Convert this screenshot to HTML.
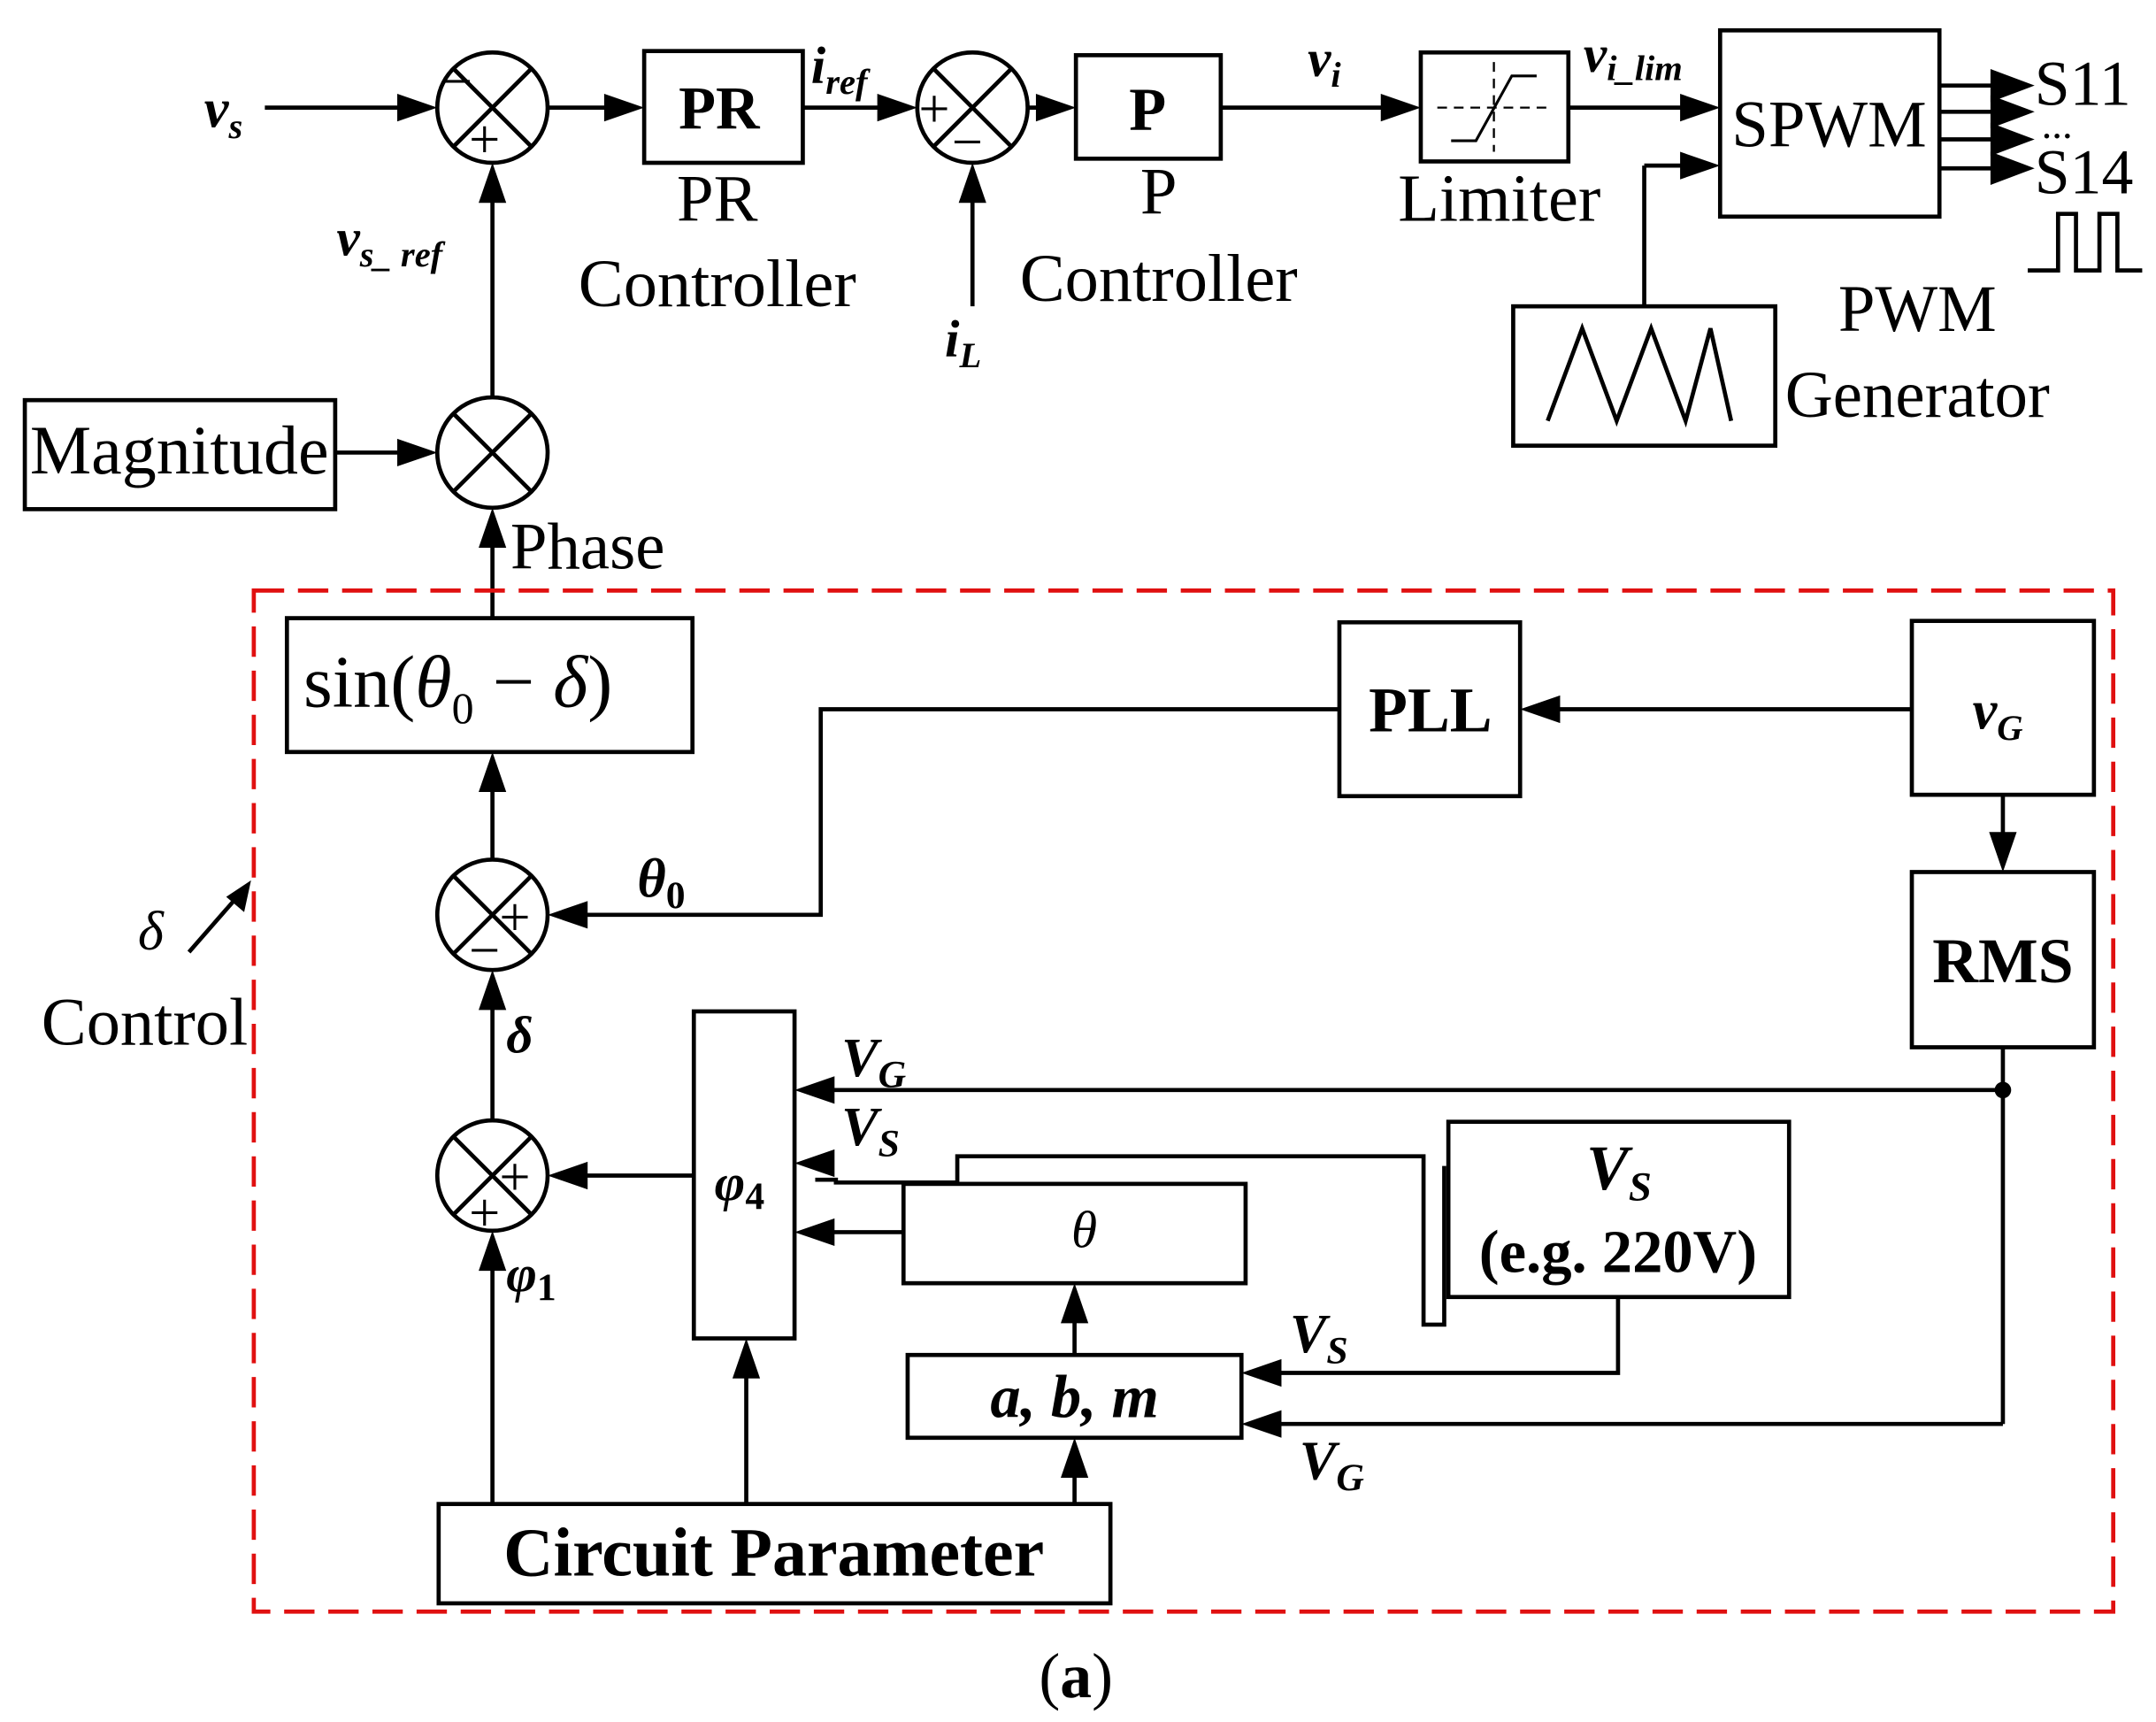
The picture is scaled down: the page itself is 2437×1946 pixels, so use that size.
<!DOCTYPE html>
<html><head><meta charset="utf-8"><style>
html,body{margin:0;padding:0;background:#fff;}
svg{display:block;}
text{font-family:"Liberation Serif",serif;fill:#000;}
.b{font-weight:bold;}
.i{font-style:italic;}
</style></head><body>
<svg width="2437" height="1946" viewBox="0 0 1563 1248" preserveAspectRatio="none" xmlns="http://www.w3.org/2000/svg">
<g stroke="#000" stroke-width="3" fill="none">
<line x1="192" y1="78" x2="300" y2="78"/>
<circle cx="357" cy="78" r="40"/>
<line x1="329" y1="50" x2="385" y2="106"/><line x1="385" y1="50" x2="329" y2="106"/>
<line x1="397" y1="78" x2="452" y2="78"/>
<rect x="467" y="37" width="115" height="81"/>
<line x1="582" y1="78" x2="650" y2="78"/>
<circle cx="705" cy="78" r="40"/>
<line x1="677" y1="50" x2="733" y2="106"/><line x1="733" y1="50" x2="677" y2="106"/>
<line x1="705" y1="222" x2="705" y2="135"/>
<line x1="745" y1="78" x2="765" y2="78"/>
<rect x="780" y="40" width="105" height="75"/>
<line x1="885" y1="78" x2="1015" y2="78"/>
<rect x="1030" y="38" width="107" height="79"/>
<line x1="1137" y1="78" x2="1232" y2="78"/>
<rect x="1247" y="22" width="159" height="135"/>
<line x1="1192" y1="222" x2="1192" y2="120"/><line x1="1192" y1="120" x2="1232" y2="120"/>
<rect x="1097" y="222" width="190" height="101"/>
<polyline points="1122,305 1147,238 1172,305 1197,238 1222,305 1240,238 1255,305"/>
<line x1="1406" y1="62" x2="1450" y2="62"/><line x1="1406" y1="81" x2="1450" y2="81"/>
<line x1="1406" y1="101" x2="1450" y2="101"/><line x1="1406" y1="122" x2="1450" y2="122"/>
<polyline points="1470,196 1492,196 1492,155 1505,155 1505,196 1522,196 1522,155 1535,155 1535,196 1553,196"/>
<line x1="1042" y1="78" x2="1125" y2="78" stroke-width="1.5" stroke-dasharray="7,5"/>
<line x1="1083" y1="45" x2="1083" y2="110" stroke-width="1.5" stroke-dasharray="7,5"/>
<polyline points="1052,102 1070,102 1096,55 1114,55" stroke-width="2"/>
<line x1="357" y1="288" x2="357" y2="133"/>
<rect x="18" y="290" width="225" height="79"/>
<line x1="243" y1="328" x2="302" y2="328"/>
<circle cx="357" cy="328" r="40"/>
<line x1="329" y1="300" x2="385" y2="356"/><line x1="385" y1="300" x2="329" y2="356"/>
<line x1="357" y1="448" x2="357" y2="383"/>
<rect x="208" y="448" width="294" height="97"/>
<rect x="971" y="451" width="131" height="126"/>
<rect x="1386" y="450" width="132" height="126"/>
<rect x="1386" y="632" width="132" height="127"/>
<line x1="1386" y1="514" x2="1117" y2="514"/>
<polyline points="971,514 595,514 595,663 412,663"/>
<line x1="1452" y1="576" x2="1452" y2="617"/>
<circle cx="357" cy="663" r="40"/>
<line x1="329" y1="635" x2="385" y2="691"/><line x1="385" y1="635" x2="329" y2="691"/>
<line x1="357" y1="623" x2="357" y2="560"/>
<line x1="357" y1="812" x2="357" y2="718"/>
<circle cx="357" cy="852" r="40"/>
<line x1="329" y1="824" x2="385" y2="880"/><line x1="385" y1="824" x2="329" y2="880"/>
<rect x="503" y="733" width="73" height="237"/>
<line x1="503" y1="852" x2="412" y2="852"/>
<line x1="1452" y1="759" x2="1452" y2="1032"/>
<line x1="1452" y1="790" x2="591" y2="790"/>
<line x1="1452" y1="1032" x2="915" y2="1032"/>
<polyline points="591,855 606,855 606,857 694,857 694,838 1032,838 1032,960 1047,960 1047,845"/>
<rect x="1050" y="813" width="247" height="127"/>
<rect x="655" y="858" width="248" height="72"/>
<line x1="655" y1="893" x2="591" y2="893"/>
<line x1="779" y1="982" x2="779" y2="945"/>
<rect x="658" y="982" width="242" height="60"/>
<polyline points="1173,940 1173,995 915,995"/>
<rect x="318" y="1090" width="487" height="72"/>
<line x1="357" y1="1090" x2="357" y2="907"/>
<line x1="541" y1="1090" x2="541" y2="985"/>
<line x1="779" y1="1090" x2="779" y2="1057"/>
<line x1="137" y1="690" x2="172" y2="650"/>
<rect x="184" y="428" width="1348" height="740" stroke="#e01010" stroke-dasharray="22,10"/>
</g>
<g fill="#000">
<circle cx="1452" cy="790" r="6"/>
<polygon points="317,78 288,68 288,88"/>
<polygon points="467,78 438,68 438,88"/>
<polygon points="665,78 636,68 636,88"/>
<polygon points="780,78 751,68 751,88"/>
<polygon points="1030,78 1001,68 1001,88"/>
<polygon points="1247,78 1218,68 1218,88"/>
<polygon points="1247,120 1218,110 1218,130"/>
<polygon points="705,118 695,147 715,147"/>
<polygon points="357,118 347,147 367,147"/>
<polygon points="317,328 288,318 288,338"/>
<polygon points="357,368 347,397 367,397"/>
<polygon points="1102,514 1131,504 1131,524"/>
<polygon points="397,663 426,653 426,673"/>
<polygon points="1452,632 1442,603 1462,603"/>
<polygon points="357,545 347,574 367,574"/>
<polygon points="357,703 347,732 367,732"/>
<polygon points="397,852 426,842 426,862"/>
<polygon points="576,790 605,780 605,800"/>
<polygon points="576,843 605,833 605,853"/>
<polygon points="576,893 605,883 605,903"/>
<polygon points="779,930 769,959 789,959"/>
<polygon points="900,995 929,985 929,1005"/>
<polygon points="900,1032 929,1022 929,1042"/>
<polygon points="357,892 347,921 367,921"/>
<polygon points="541,970 531,999 551,999"/>
<polygon points="779,1042 769,1071 789,1071"/>
<polygon points="182,638 164,650 177,661"/>
<polygon points="1475,62 1443,50 1443,74"/>
<polygon points="1475,81 1443,69 1443,93"/>
<polygon points="1475,101 1443,89 1443,113"/>
<polygon points="1475,122 1443,110 1443,134"/>
</g>
<g font-size="40">
<text x="320" y="72">−</text><text x="340" y="114">+</text>
<text x="666" y="92">+</text><text x="690" y="116">−</text>
<text x="362" y="678">+</text><text x="340" y="702">−</text>
<text x="362" y="866">+</text><text x="340" y="892">+</text>
</g>
<text x="148" y="92" font-size="40" class="b i">v<tspan font-size="26" dy="8">s</tspan></text>
<text x="492" y="93" font-size="44" class="b">PR</text>
<text x="520" y="160" font-size="48" text-anchor="middle">PR</text>
<text x="520" y="222" font-size="49" text-anchor="middle">Controller</text>
<text x="588" y="60" font-size="38" class="b i">i<tspan font-size="26" dy="8">ref</tspan></text>
<text x="685" y="258" font-size="38" class="b i">i<tspan font-size="26" dy="8">L</tspan></text>
<text x="832" y="94" font-size="44" class="b" text-anchor="middle">P</text>
<text x="840" y="155" font-size="48" text-anchor="middle">P</text>
<text x="840" y="218" font-size="49" text-anchor="middle">Controller</text>
<text x="948" y="55" font-size="38" class="b i">v<tspan font-size="26" dy="8">i</tspan></text>
<text x="1087" y="160" font-size="49" text-anchor="middle">Limiter</text>
<text x="1148" y="52" font-size="38" class="b i">v<tspan font-size="26" dy="6">i_lim</tspan></text>
<text x="1326" y="106" font-size="48" text-anchor="middle">SPWM</text>
<text x="1475" y="76" font-size="46">S11</text>
<text x="1480" y="100" font-size="30">...</text>
<text x="1475" y="140" font-size="46">S14</text>
<text x="1390" y="240" font-size="48" text-anchor="middle">PWM</text>
<text x="1390" y="302" font-size="48" text-anchor="middle">Generator</text>
<text x="244" y="185" font-size="38" class="b i">v<tspan font-size="26" dy="8">s_ ref</tspan></text>
<text x="130" y="343" font-size="50" text-anchor="middle">Magnitude</text>
<text x="370" y="412" font-size="48">Phase</text>
<text x="220" y="512" font-size="54">sin(<tspan class="i">θ</tspan><tspan font-size="32" dy="12">0</tspan><tspan dy="-12"> − </tspan><tspan class="i">δ</tspan>)</text>
<text x="1037" y="530" font-size="46" class="b" text-anchor="middle">PLL</text>
<text x="1430" y="528" font-size="40" class="b i">v<tspan font-size="26" dy="8">G</tspan></text>
<text x="1452" y="712" font-size="46" class="b" text-anchor="middle">RMS</text>
<text x="462" y="650" font-size="40" class="b i">θ<tspan font-size="28" dy="8" font-style="normal">0</tspan></text>
<text x="100" y="688" font-size="40" class="i">δ</text>
<text x="30" y="757" font-size="49">Control</text>
<text x="367" y="763" font-size="38" class="b i">δ</text>
<text x="367" y="936" font-size="38" class="b i">φ<tspan font-size="28" dy="6" font-style="normal">1</tspan></text>
<text x="518" y="870" font-size="38" class="b i">φ<tspan font-size="28" dy="6" font-style="normal">4</tspan></text>
<text x="610" y="780" font-size="40" class="b i">V<tspan font-size="28" dy="8">G</tspan></text>
<text x="610" y="830" font-size="40" class="b i">V<tspan font-size="28" dy="8">S</tspan></text>
<text x="786" y="904" font-size="38" class="i" text-anchor="middle">θ</text>
<text x="1150" y="862" font-size="46" class="b i">V<tspan font-size="30" dy="8">S</tspan></text>
<text x="1173" y="922" font-size="44" class="b" text-anchor="middle">(e.g. 220V)</text>
<text x="779" y="1027" font-size="44" class="b i" text-anchor="middle">a, b, m</text>
<text x="935" y="980" font-size="40" class="b i">V<tspan font-size="28" dy="8">S</tspan></text>
<text x="942" y="1072" font-size="40" class="b i">V<tspan font-size="28" dy="8">G</tspan></text>
<text x="561" y="1142" font-size="50" class="b" text-anchor="middle">Circuit Parameter</text>
<text x="780" y="1230" font-size="46" text-anchor="middle">(<tspan class="b">a</tspan>)</text>
</svg>
</body></html>
